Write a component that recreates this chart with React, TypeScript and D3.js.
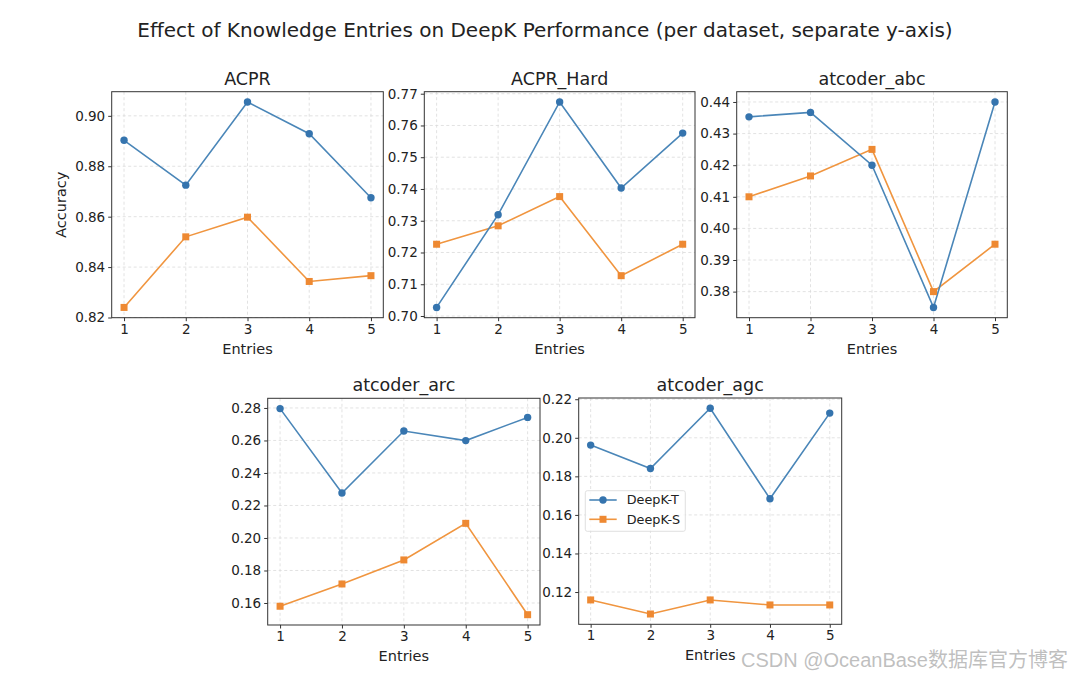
import { useRef, useEffect } from "react";
import * as d3 from "d3";

const entries = [1, 2, 3, 4, 5];
const datasets = ["ACPR", "ACPR_Hard", "atcoder_abc", "atcoder_arc", "atcoder_agc"];
const seriesNames = ["DeepK-T", "DeepK-S"];

const deepkT = [
  [0.8903, 0.8725, 0.9055, 0.8929, 0.8675],
  [0.7027, 0.7319, 0.7674, 0.7403, 0.7576],
  [0.4353, 0.4367, 0.42, 0.375, 0.44],
  [0.2796, 0.2277, 0.2658, 0.2599, 0.2742],
  [0.1962, 0.1841, 0.2153, 0.1684, 0.2128],
];
const deepkS = [
  [0.824, 0.852, 0.8598, 0.8343, 0.8366],
  [0.7226, 0.7284, 0.7376, 0.7127, 0.7226],
  [0.41, 0.4166, 0.425, 0.38, 0.395],
  [0.158, 0.1717, 0.1865, 0.209, 0.1528],
  [0.1159, 0.1086, 0.1159, 0.1133, 0.1133],
];
const yTicks = [
  [0.82, 0.84, 0.86, 0.88, 0.9],
  [0.7, 0.71, 0.72, 0.73, 0.74, 0.75, 0.76, 0.77],
  [0.38, 0.39, 0.4, 0.41, 0.42, 0.43, 0.44],
  [0.16, 0.18, 0.2, 0.22, 0.24, 0.26, 0.28],
  [0.12, 0.14, 0.16, 0.18, 0.2, 0.22],
];

const W = 1070;
const H = 676;

const boxes = [
  { x: 111.7, y: 91.7, w: 271.6, h: 226 },
  { x: 424.3, y: 91.7, w: 270.7, h: 226 },
  { x: 736.7, y: 91.7, w: 270.6, h: 226 },
  { x: 267.7, y: 398.3, w: 272.3, h: 226.7 },
  { x: 578.7, y: 398, w: 263, h: 226.3 },
];

const BLUE_LINE = "#4a86b8";
const BLUE_MARK = "#3574ae";
const ORANGE_LINE = "#f0953f";
const ORANGE_MARK = "#ee8932";
const FONT = "DejaVu Sans, sans-serif";

export default function App() {
  const svgRef = useRef<SVGSVGElement>(null);

  useEffect(() => {
    if (!svgRef.current) return;
    const svg = d3.select(svgRef.current);
    svg.selectAll("*").remove();

    svg.append("rect").attr("width", W).attr("height", H).attr("fill", "#fff");

    svg
      .append("text")
      .attr("x", 545)
      .attr("y", 37)
      .attr("text-anchor", "middle")
      .style("font-family", FONT)
      .style("font-size", "20px")
      .style("fill", "#222")
      .text("Effect of Knowledge Entries on DeepK Performance (per dataset, separate y-axis)");

    datasets.forEach((name, i) => {
      const b = boxes[i];
      const all = deepkT[i].concat(deepkS[i]);
      const lo = d3.min(all)!;
      const hi = d3.max(all)!;
      const pad = (hi - lo) * 0.05;
      const x = d3.scaleLinear().domain([0.8, 5.2]).range([0, b.w]);
      const y = d3.scaleLinear().domain([lo - pad, hi + pad]).range([b.h, 0]);

      const g = svg.append("g").attr("transform", `translate(${b.x},${b.y})`);

      // grid
      g.append("g")
        .selectAll("line")
        .data(yTicks[i])
        .join("line")
        .attr("x1", 0)
        .attr("x2", b.w)
        .attr("y1", (d) => y(d))
        .attr("y2", (d) => y(d))
        .attr("stroke", "#dadada")
        .attr("stroke-width", 0.8)
        .attr("stroke-dasharray", "3,2.5");
      g.append("g")
        .selectAll("line")
        .data(entries)
        .join("line")
        .attr("x1", (d) => x(d))
        .attr("x2", (d) => x(d))
        .attr("y1", 0)
        .attr("y2", b.h)
        .attr("stroke", "#dadada")
        .attr("stroke-width", 0.8)
        .attr("stroke-dasharray", "3,2.5");

      // axes
      const xa = g
        .append("g")
        .attr("transform", `translate(0,${b.h})`)
        .call(d3.axisBottom(x).tickValues(entries).tickFormat(d3.format("d")).tickSize(3.5).tickPadding(3));
      const ya = g
        .append("g")
        .call(d3.axisLeft(y).tickValues(yTicks[i]).tickFormat(d3.format(".2f")).tickSize(3.5).tickPadding(3));
      [xa, ya].forEach((a) => {
        a.select(".domain").remove();
        a.selectAll("line").attr("stroke", "#333");
        a.selectAll("text")
          .style("font-family", FONT)
          .style("font-size", "13.5px")
          .style("fill", "#222");
      });

      g.append("rect")
        .attr("width", b.w)
        .attr("height", b.h)
        .attr("fill", "none")
        .attr("stroke", "#333")
        .attr("stroke-width", 1);

      const line = d3
        .line<number>()
        .x((_, j) => x(entries[j]))
        .y((d) => y(d));

      g.append("path")
        .attr("d", line(deepkS[i]))
        .attr("fill", "none")
        .attr("stroke", ORANGE_LINE)
        .attr("stroke-width", 1.6);
      g.append("path")
        .attr("d", line(deepkT[i]))
        .attr("fill", "none")
        .attr("stroke", BLUE_LINE)
        .attr("stroke-width", 1.6);

      g.append("g")
        .selectAll("circle")
        .data(deepkT[i])
        .join("circle")
        .attr("cx", (_, j) => x(entries[j]))
        .attr("cy", (d) => y(d))
        .attr("r", 3.7)
        .attr("fill", BLUE_MARK);
      g.append("g")
        .selectAll("rect")
        .data(deepkS[i])
        .join("rect")
        .attr("x", (_, j) => x(entries[j]) - 3.5)
        .attr("y", (d) => y(d) - 3.5)
        .attr("width", 7)
        .attr("height", 7)
        .attr("fill", ORANGE_MARK);

      // titles
      g.append("text")
        .attr("x", b.w / 2)
        .attr("y", -7)
        .attr("text-anchor", "middle")
        .style("font-family", FONT)
        .style("font-size", "17.5px")
        .style("fill", "#222")
        .text(name);
      g.append("text")
        .attr("x", b.w / 2)
        .attr("y", b.h + 36)
        .attr("text-anchor", "middle")
        .style("font-family", FONT)
        .style("font-size", "14.5px")
        .style("fill", "#222")
        .text("Entries");
      if (i === 0) {
        g.append("text")
          .attr("transform", `translate(-46,${b.h / 2}) rotate(-90)`)
          .attr("text-anchor", "middle")
          .style("font-family", FONT)
          .style("font-size", "14.5px")
          .style("fill", "#222")
          .text("Accuracy");
      }

      // legend in last panel
      if (i === datasets.length - 1) {
        const lg = g.append("g").attr("transform", "translate(6.6,92.7)");
        lg.append("rect")
          .attr("width", 100)
          .attr("height", 40.6)
          .attr("rx", 2)
          .attr("fill", "#fff")
          .attr("fill-opacity", 0.8)
          .attr("stroke", "#d8d8d8")
          .attr("stroke-width", 0.8);
        seriesNames.forEach((s, k) => {
          const cy = 9.3 + k * 19.3;
          const col = k === 0 ? BLUE_LINE : ORANGE_LINE;
          lg.append("line")
            .attr("x1", 4)
            .attr("x2", 31.4)
            .attr("y1", cy)
            .attr("y2", cy)
            .attr("stroke", col)
            .attr("stroke-width", 1.6);
          if (k === 0) {
            lg.append("circle").attr("cx", 17.7).attr("cy", cy).attr("r", 3.7).attr("fill", BLUE_MARK);
          } else {
            lg.append("rect")
              .attr("x", 14.2)
              .attr("y", cy - 3.5)
              .attr("width", 7)
              .attr("height", 7)
              .attr("fill", ORANGE_MARK);
          }
          lg.append("text")
            .attr("x", 41.4)
            .attr("y", cy + 4.5)
            .style("font-family", FONT)
            .style("font-size", "12.8px")
            .style("fill", "#222")
            .text(s);
        });
      }
    });

    // watermark
    svg
      .append("text")
      .attr("x", 1068)
      .attr("y", 667)
      .attr("text-anchor", "end")
      .style("font-family", "Liberation Sans, Noto Sans CJK SC, sans-serif")
      .style("font-size", "20px")
      .style("fill", "#b4b4b4")
      .style("fill-opacity", 0.85)
      .text("CSDN @OceanBase数据库官方博客");

    return () => {
      svg.selectAll("*").remove();
    };
  }, []);

  return (
    <div style={{ position: "absolute", left: 0, top: 0 }}>
      <svg ref={svgRef} width={W} height={H} style={{ display: "block" }} />
    </div>
  );
}
